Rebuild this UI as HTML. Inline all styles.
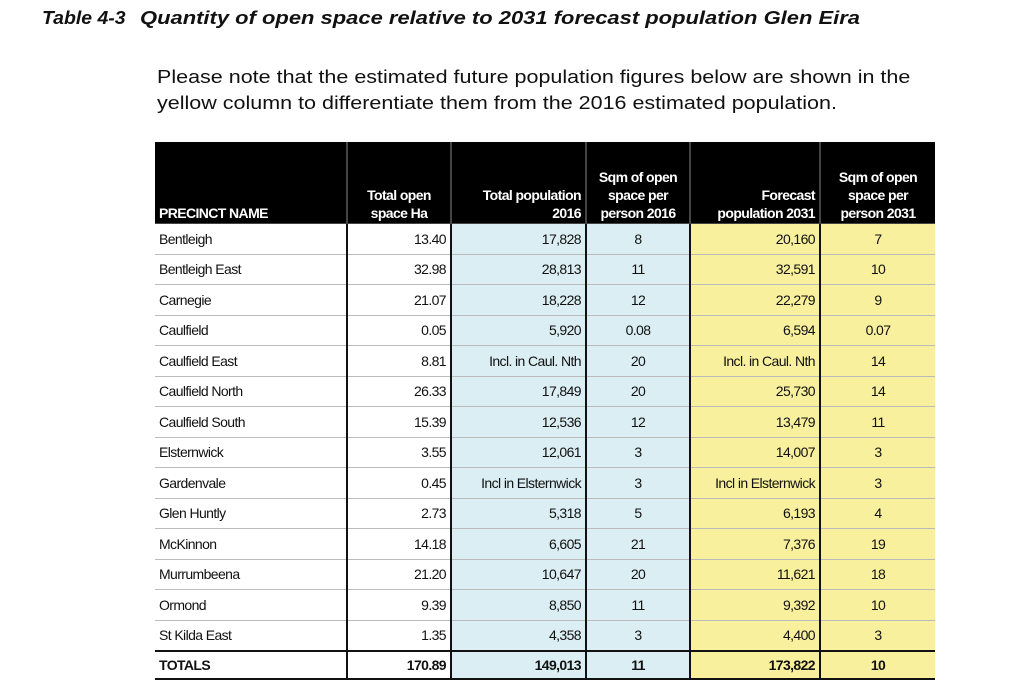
<!DOCTYPE html>
<html><head><meta charset="utf-8"><style>
body{margin:0;width:1009px;height:696px;background:#fff;position:relative;font-family:"Liberation Sans",sans-serif;overflow:hidden}
.t{position:absolute;top:8px;font-size:18px;font-weight:bold;font-style:italic;color:#111;white-space:nowrap;transform-origin:0 0}
.p{position:absolute;left:157px;font-size:18px;color:#111;white-space:nowrap;transform:scaleX(1.195);transform-origin:0 0}
table{position:absolute;left:155px;top:142px;border-collapse:collapse;table-layout:fixed;font-size:14px;letter-spacing:-0.6px;color:#111}
td{padding:0 4px;height:29.5px;border-bottom:1px solid #bbb;border-left:2px solid #111;border-right:2px solid #111;white-space:nowrap}
td:first-child{border-left:none}
td:last-child{border-right:none}
thead td{background:#000;color:#fff;font-weight:bold;vertical-align:bottom;height:80px;line-height:18px;border-color:#444;padding-bottom:1px}
.r{text-align:right}.c{text-align:center}
.b{background:#dbeef3}.y{background:#f8f09c}
tr.tot td{font-weight:bold;border-top:2px solid #111;border-bottom:2px solid #111;height:26px}
</style></head><body>
<div class="t" style="left:42px;transform:scaleX(1.08)">Table 4-3</div>
<div class="t" style="left:140px;transform:scaleX(1.22)">Quantity of open space relative to 2031 forecast population Glen Eira</div>
<div class="p" style="top:67px">Please note that the estimated future population figures below are shown in the</div>
<div class="p" style="top:93px">yellow column to differentiate them from the 2016 estimated population.</div>
<table>
<colgroup><col style="width:192px"><col style="width:104px"><col style="width:135px"><col style="width:104px"><col style="width:130px"><col style="width:115px"></colgroup>
<thead><tr><td>PRECINCT NAME</td><td class="c">Total open<br>space Ha</td><td class="r">Total population<br>2016</td><td class="c">Sqm of open<br>space per<br>person 2016</td><td class="r">Forecast<br>population 2031</td><td class="c">Sqm of open<br>space per<br>person 2031</td></tr></thead>
<tbody>
<tr><td>Bentleigh</td><td class="r">13.40</td><td class="r b">17,828</td><td class="c b">8</td><td class="r y">20,160</td><td class="c y">7</td></tr>
<tr><td>Bentleigh East</td><td class="r">32.98</td><td class="r b">28,813</td><td class="c b">11</td><td class="r y">32,591</td><td class="c y">10</td></tr>
<tr><td>Carnegie</td><td class="r">21.07</td><td class="r b">18,228</td><td class="c b">12</td><td class="r y">22,279</td><td class="c y">9</td></tr>
<tr><td>Caulfield</td><td class="r">0.05</td><td class="r b">5,920</td><td class="c b">0.08</td><td class="r y">6,594</td><td class="c y">0.07</td></tr>
<tr><td>Caulfield East</td><td class="r">8.81</td><td class="r b">Incl. in Caul. Nth</td><td class="c b">20</td><td class="r y">Incl. in Caul. Nth</td><td class="c y">14</td></tr>
<tr><td>Caulfield North</td><td class="r">26.33</td><td class="r b">17,849</td><td class="c b">20</td><td class="r y">25,730</td><td class="c y">14</td></tr>
<tr><td>Caulfield South</td><td class="r">15.39</td><td class="r b">12,536</td><td class="c b">12</td><td class="r y">13,479</td><td class="c y">11</td></tr>
<tr><td>Elsternwick</td><td class="r">3.55</td><td class="r b">12,061</td><td class="c b">3</td><td class="r y">14,007</td><td class="c y">3</td></tr>
<tr><td>Gardenvale</td><td class="r">0.45</td><td class="r b">Incl in Elsternwick</td><td class="c b">3</td><td class="r y">Incl in Elsternwick</td><td class="c y">3</td></tr>
<tr><td>Glen Huntly</td><td class="r">2.73</td><td class="r b">5,318</td><td class="c b">5</td><td class="r y">6,193</td><td class="c y">4</td></tr>
<tr><td>McKinnon</td><td class="r">14.18</td><td class="r b">6,605</td><td class="c b">21</td><td class="r y">7,376</td><td class="c y">19</td></tr>
<tr><td>Murrumbeena</td><td class="r">21.20</td><td class="r b">10,647</td><td class="c b">20</td><td class="r y">11,621</td><td class="c y">18</td></tr>
<tr><td>Ormond</td><td class="r">9.39</td><td class="r b">8,850</td><td class="c b">11</td><td class="r y">9,392</td><td class="c y">10</td></tr>
<tr><td>St Kilda East</td><td class="r">1.35</td><td class="r b">4,358</td><td class="c b">3</td><td class="r y">4,400</td><td class="c y">3</td></tr>
<tr class="tot"><td>TOTALS</td><td class="r">170.89</td><td class="r b">149,013</td><td class="c b">11</td><td class="r y">173,822</td><td class="c y">10</td></tr>
</tbody></table>
</body></html>
